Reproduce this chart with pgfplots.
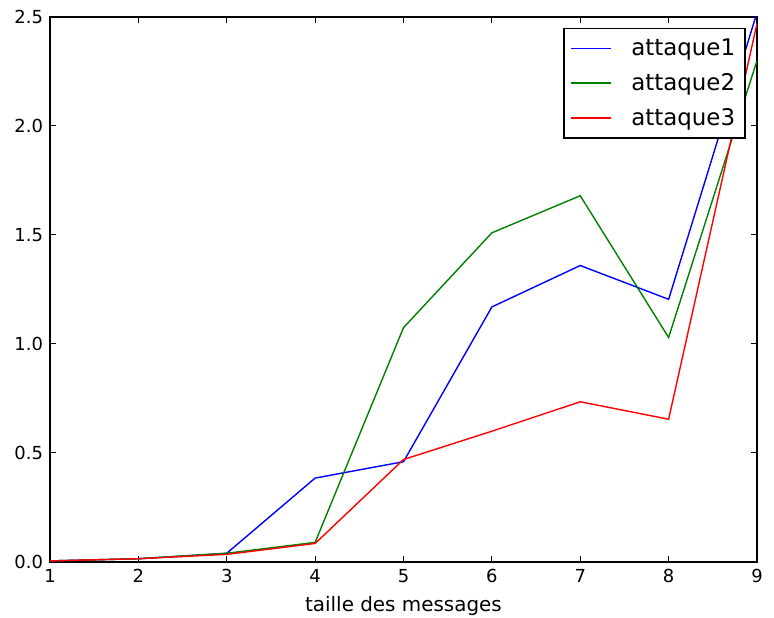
\documentclass[border=0pt]{standalone}
\usepackage{fontspec}
\setmainfont{DejaVu Sans}
\usepackage{pgfplots}
\pgfplotsset{compat=1.18}
\begin{document}
\begin{tikzpicture}
\path[use as bounding box] (-25bp,-28bp) rectangle (362bp,281bp);
\begin{axis}[
  at={(0,0)}, anchor=south west,
  scale only axis, width=353.5bp, height=272.5bp,
  xmin=1, xmax=9, ymin=0, ymax=2.5,
  xtick={1,...,9},
  ytick={0,0.5,1,1.5,2,2.5},
  yticklabel style={/pgf/number format/.cd, fixed, fixed zerofill, precision=1},
  /pgf/number format/assume math mode=true,
  tick align=inside,
  major tick length=3bp,
  tick style={black, line width=0.5bp},
  axis line style={line width=0.6bp},
  ticklabel style={font=\fontsize{9}{11}\selectfont},
  xlabel={taille des messages},
  xlabel style={font=\fontsize{10}{12}\selectfont, yshift=0bp},
  legend style={at={(0.984,0.980)}, anchor=north east, draw=black, line width=0.6bp,
     font=\fontsize{11.5}{14}\selectfont, row sep=3.5bp, inner sep=3bp,
     /tikz/every odd column/.append style={column sep=8bp}},
  legend cell align=left,
  legend image code/.code={\draw[#1, line width=0.7bp] (0bp,0bp) -- (20bp,0bp);},
  clip=true,
]
\addplot[color={rgb,1:red,0;green,0;blue,1}, line width=0.7bp] coordinates {
 (1,0.005) (2,0.015) (3,0.04) (4,0.385) (5,0.46) (6,1.17) (7,1.36) (8,1.205) (9,2.52)};
\addlegendentry{attaque1}
\addplot[color={rgb,1:red,0;green,0.5;blue,0}, line width=0.7bp] coordinates {
 (1,0.005) (2,0.015) (3,0.04) (4,0.09) (5,1.075) (6,1.51) (7,1.68) (8,1.03) (9,2.30)};
\addlegendentry{attaque2}
\addplot[color={rgb,1:red,1;green,0;blue,0}, line width=0.7bp] coordinates {
 (1,0.005) (2,0.015) (3,0.035) (4,0.085) (5,0.47) (6,0.60) (7,0.735) (8,0.655) (9,2.47)};
\addlegendentry{attaque3}
\end{axis}
\end{tikzpicture}
\end{document}
